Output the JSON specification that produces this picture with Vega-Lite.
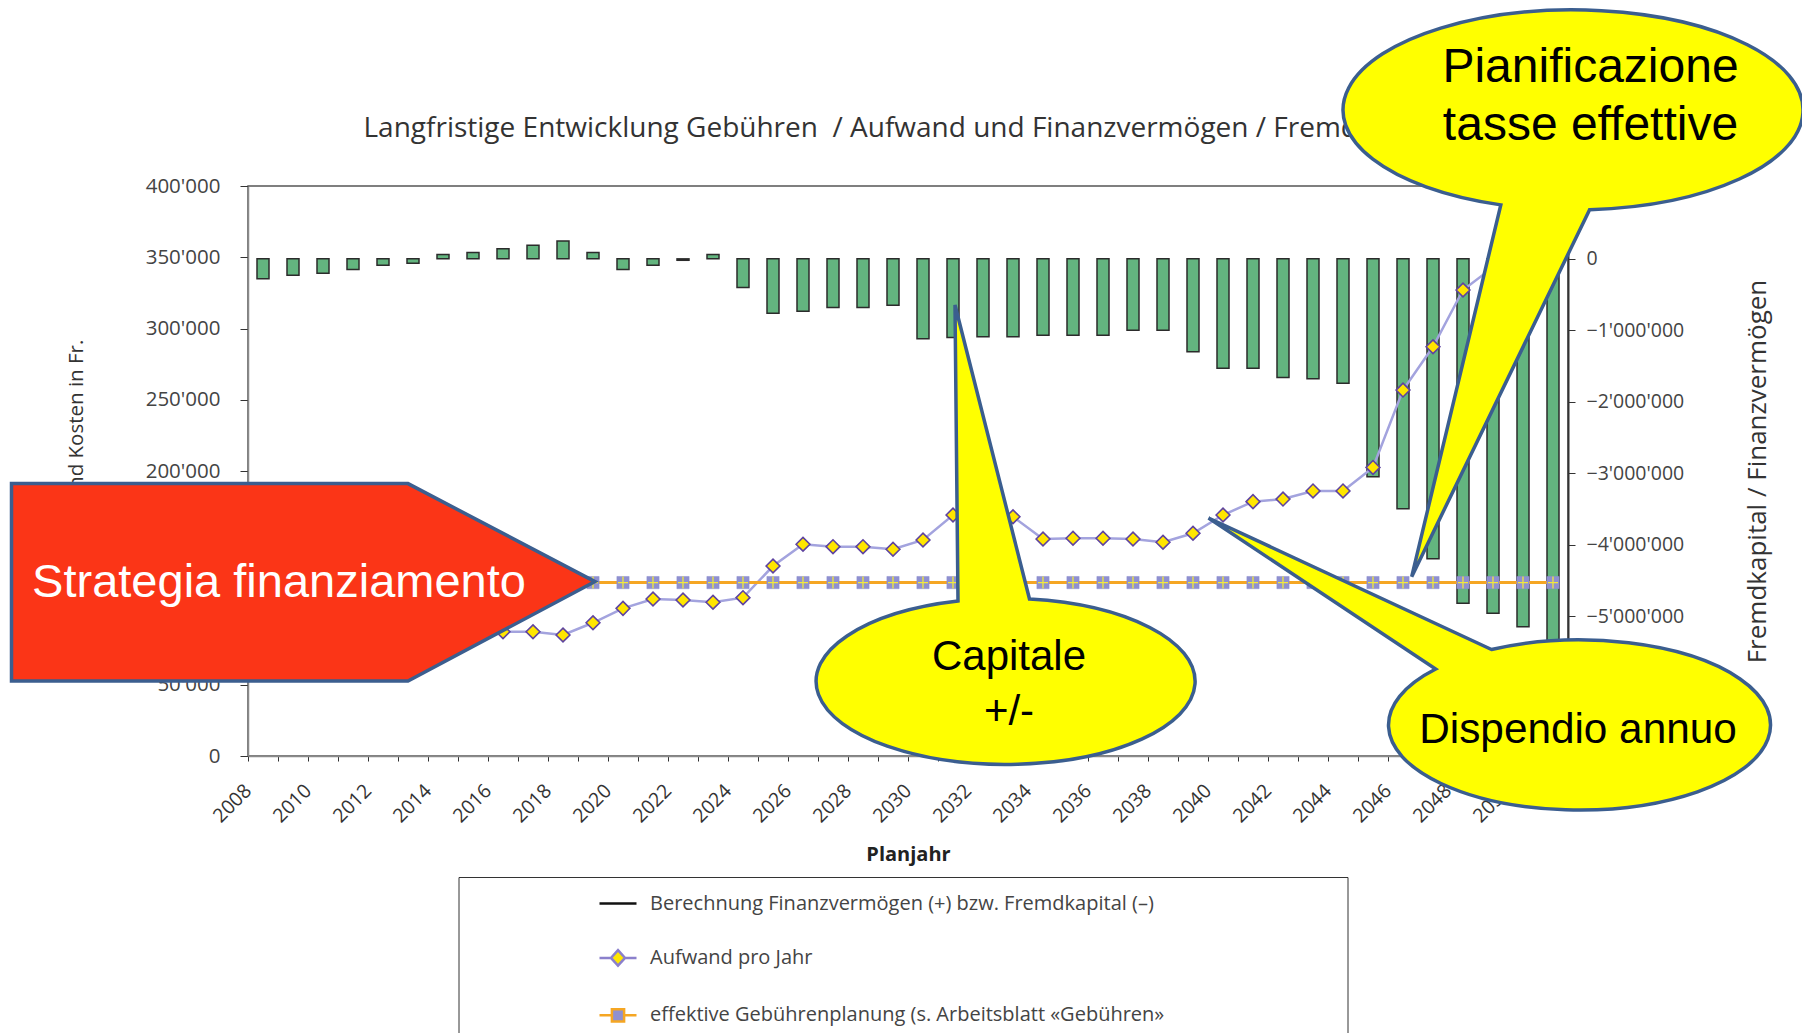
{
  "$schema": "https://vega.github.io/schema/vega-lite/v6.json",
  "width": 1320,
  "height": 570,
  "autosize": {"type": "none"},
  "padding": {"left": 248, "top": 186, "right": 234, "bottom": 277},
  "background": "white",
  "config": {
    "view": {"fill": "#E5E6E8", "stroke": "#555555", "strokeWidth": 1.5},
    "axis": {"grid": false, "labelFont": "Open Sans", "titleFont": "Open Sans", "labelColor": "#444444", "titleColor": "#333333", "tickColor": "#333333"}
  },
  "datasets": {
    "main": [
      {"year": 2008, "kapital": -280000, "aufwand": 92000, "gebuehr": 121700},
      {"year": 2009, "kapital": -230000, "aufwand": 95000, "gebuehr": 121700},
      {"year": 2010, "kapital": -200000, "aufwand": 93000, "gebuehr": 121700},
      {"year": 2011, "kapital": -150000, "aufwand": 96000, "gebuehr": 121700},
      {"year": 2012, "kapital": -90000, "aufwand": 94000, "gebuehr": 121700},
      {"year": 2013, "kapital": -60000, "aufwand": 91000, "gebuehr": 121700},
      {"year": 2014, "kapital": 60000, "aufwand": 89000, "gebuehr": 121700},
      {"year": 2015, "kapital": 90000, "aufwand": 88000, "gebuehr": 121700},
      {"year": 2016, "kapital": 140000, "aufwand": 87200, "gebuehr": 121700},
      {"year": 2017, "kapital": 190000, "aufwand": 87200, "gebuehr": 121700},
      {"year": 2018, "kapital": 250000, "aufwand": 84900, "gebuehr": 121700},
      {"year": 2019, "kapital": 90000, "aufwand": 93500, "gebuehr": 121700},
      {"year": 2020, "kapital": -150000, "aufwand": 103600, "gebuehr": 121700},
      {"year": 2021, "kapital": -90000, "aufwand": 110200, "gebuehr": 121700},
      {"year": 2022, "kapital": -20000, "aufwand": 109500, "gebuehr": 121700},
      {"year": 2023, "kapital": 60000, "aufwand": 107900, "gebuehr": 121700},
      {"year": 2024, "kapital": -400000, "aufwand": 111100, "gebuehr": 121700},
      {"year": 2025, "kapital": -760000, "aufwand": 133300, "gebuehr": 121700},
      {"year": 2026, "kapital": -735000, "aufwand": 148600, "gebuehr": 121700},
      {"year": 2027, "kapital": -680000, "aufwand": 146900, "gebuehr": 121700},
      {"year": 2028, "kapital": -680000, "aufwand": 146900, "gebuehr": 121700},
      {"year": 2029, "kapital": -650000, "aufwand": 145100, "gebuehr": 121700},
      {"year": 2030, "kapital": -1120000, "aufwand": 151600, "gebuehr": 121700},
      {"year": 2031, "kapital": -1100000, "aufwand": 169100, "gebuehr": 121700},
      {"year": 2032, "kapital": -1090000, "aufwand": 176000, "gebuehr": 121700},
      {"year": 2033, "kapital": -1090000, "aufwand": 167900, "gebuehr": 121700},
      {"year": 2034, "kapital": -1070000, "aufwand": 152300, "gebuehr": 121700},
      {"year": 2035, "kapital": -1070000, "aufwand": 152800, "gebuehr": 121700},
      {"year": 2036, "kapital": -1070000, "aufwand": 152800, "gebuehr": 121700},
      {"year": 2037, "kapital": -1000000, "aufwand": 152300, "gebuehr": 121700},
      {"year": 2038, "kapital": -1000000, "aufwand": 150000, "gebuehr": 121700},
      {"year": 2039, "kapital": -1300000, "aufwand": 156300, "gebuehr": 121700},
      {"year": 2040, "kapital": -1530000, "aufwand": 169100, "gebuehr": 121700},
      {"year": 2041, "kapital": -1530000, "aufwand": 178500, "gebuehr": 121700},
      {"year": 2042, "kapital": -1660000, "aufwand": 180300, "gebuehr": 121700},
      {"year": 2043, "kapital": -1680000, "aufwand": 186000, "gebuehr": 121700},
      {"year": 2044, "kapital": -1740000, "aufwand": 186000, "gebuehr": 121700},
      {"year": 2045, "kapital": -3050000, "aufwand": 202500, "gebuehr": 121700},
      {"year": 2046, "kapital": -3500000, "aufwand": 256800, "gebuehr": 121700},
      {"year": 2047, "kapital": -4200000, "aufwand": 287200, "gebuehr": 121700},
      {"year": 2048, "kapital": -4820000, "aufwand": 327000, "gebuehr": 121700},
      {"year": 2049, "kapital": -4960000, "aufwand": 343000, "gebuehr": 121700},
      {"year": 2050, "kapital": -5150000, "aufwand": 352000, "gebuehr": 121700},
      {"year": 2051, "kapital": -5450000, "aufwand": 358000, "gebuehr": 121700}
    ],
    "legendItems": [
      {"series": "Berechnung Finanzvermögen (+) bzw. Fremdkapital (–)"},
      {"series": "Aufwand pro Jahr"},
      {"series": "effektive Gebührenplanung (s. Arbeitsblatt «Gebühren»"}
    ]
  },
  "layer": [
    {
      "data": {"name": "main"},
      "mark": {"type": "bar", "width": {"band": 0.4}, "fill": "#63B57F", "stroke": "#2B2B2B", "strokeWidth": 1.5},
      "encoding": {
        "x": {
          "field": "year", "type": "ordinal", "title": "Planjahr",
          "scale": {"type": "band", "paddingInner": 0, "paddingOuter": 0},
          "axis": {
            "orient": "bottom", "bandPosition": 0, "labelAngle": -45, "labelAlign": "right", "labelBaseline": "top",
            "labelExpr": "datum.value % 2 === 0 ? datum.label : ''", "labelOverlap": false,
            "labelFontSize": 19.5, "labelColor": "#333333", "labelPadding": 20, "labelOffset": -21,
            "tickSize": 5, "domainColor": "#8A8A8A", "domainWidth": 1.5,
            "titleFontSize": 20, "titleFontWeight": "bold", "titleColor": "#222222", "titlePadding": 19
          }
        },
        "y": {
          "field": "kapital", "type": "quantitative", "title": "Fremdkapital / Finanzvermögen",
          "scale": {"domain": [-6960000, 1020000], "nice": false, "zero": false},
          "axis": {
            "orient": "right", "values": [0, -1000000, -2000000, -3000000, -4000000, -5000000, -6000000],
            "labelExpr": "replace(format(datum.value, ','), regexp(',', 'g'), \"'\")",
            "labelFontSize": 19.5, "labelPadding": 11, "tickSize": 7, "domainColor": "#333333", "domainWidth": 2,
            "titleAngle": 270, "titleFontSize": 26, "titleFontWeight": "normal", "titleColor": "#333333", "titlePadding": 87
          }
        }
      }
    },
    {
      "data": {"name": "main"},
      "layer": [
        {
          "mark": {"type": "line", "color": "#A3A3DE", "strokeWidth": 2.5},
          "encoding": {
            "x": {
              "field": "year", "type": "ordinal",
              "scale": {"type": "band", "paddingInner": 0, "paddingOuter": 0},
              "axis": {
                "orient": "top", "labels": false, "ticks": false, "domain": false, "grid": false,
                "title": "Langfristige Entwicklung Gebühren\u00a0 / Aufwand und Finanzvermögen / Fremdkapital",
                "titleFont": "Open Sans", "titleFontSize": 28, "titleFontWeight": "normal", "titleColor": "#333333",
                "titleAnchor": "start", "titleAlign": "left", "titleBaseline": "middle", "titleAngle": 0,
                "titleX": 115, "titleY": -58
              }
            },
            "y": {
              "field": "aufwand", "type": "quantitative", "title": "Gebühren und Kosten in Fr.",
              "scale": {"domain": [0, 400000], "nice": false},
              "axis": {
                "orient": "left", "values": [0, 50000, 100000, 150000, 200000, 250000, 300000, 350000, 400000],
                "labelExpr": "replace(format(datum.value, ','), regexp(',', 'g'), \"'\")",
                "labelFontSize": 20.5, "labelPadding": 20, "tickSize": 8, "domainColor": "#8A8A8A", "domainWidth": 1.5,
                "titleFontSize": 20.5, "titleFontWeight": "normal", "titleColor": "#333333", "titlePadding": 59
              }
            }
          }
        },
        {
          "mark": {"type": "point", "shape": "diamond", "size": 190, "filled": true, "fill": "#FFE600", "stroke": "#5E43A0", "strokeWidth": 1.6, "opacity": 1},
          "encoding": {
            "x": {"field": "year", "type": "ordinal", "scale": {"type": "band", "paddingInner": 0, "paddingOuter": 0}},
            "y": {"field": "aufwand", "type": "quantitative", "title": "Gebühren und Kosten in Fr.", "scale": {"domain": [0, 400000], "nice": false}}
          }
        },
        {
          "mark": {"type": "line", "color": "#F5A623", "strokeWidth": 3},
          "encoding": {
            "x": {"field": "year", "type": "ordinal", "scale": {"type": "band", "paddingInner": 0, "paddingOuter": 0}},
            "y": {"field": "gebuehr", "type": "quantitative", "title": "Gebühren und Kosten in Fr.", "scale": {"domain": [0, 400000], "nice": false}}
          }
        },
        {
          "mark": {"type": "point", "shape": "square", "size": 150, "filled": true, "fill": "#8F90D0", "stroke": "#8F90D0", "strokeWidth": 0.5, "opacity": 1},
          "encoding": {
            "x": {"field": "year", "type": "ordinal", "scale": {"type": "band", "paddingInner": 0, "paddingOuter": 0}},
            "y": {"field": "gebuehr", "type": "quantitative", "title": "Gebühren und Kosten in Fr.", "scale": {"domain": [0, 400000], "nice": false}}
          }
        },
        {
          "mark": {"type": "point", "shape": "M-5,0H5M0,-6V6", "size": 4, "filled": false, "color": "#F2E93C", "strokeWidth": 1.3, "opacity": 1},
          "encoding": {
            "x": {"field": "year", "type": "ordinal", "scale": {"type": "band", "paddingInner": 0, "paddingOuter": 0}},
            "y": {"field": "gebuehr", "type": "quantitative", "title": "Gebühren und Kosten in Fr.", "scale": {"domain": [0, 400000], "nice": false}}
          }
        },
        {
          "data": {"name": "legendItems"},
          "mark": {"type": "point", "filled": true, "opacity": 0},
          "encoding": {
            "shape": {
              "field": "series", "type": "nominal",
              "scale": {
                "domain": ["Berechnung Finanzvermögen (+) bzw. Fremdkapital (–)", "Aufwand pro Jahr", "effektive Gebührenplanung (s. Arbeitsblatt «Gebühren»"],
                "range": ["M-1,0H1", "M-1,0H-0.38M0.38,0H1M0,-0.42L0.38,0L0,0.42L-0.38,0Z", "M-1,0H-0.33M0.33,0H1M-0.33,-0.33H0.33V0.33H-0.33Z"]
              },
              "legend": {
                "orient": "none", "legendX": 210.5, "legendY": 691, "title": null, "direction": "vertical",
                "padding": 6.5, "symbolOffset": 133, "symbolSize": 1369, "symbolStrokeWidth": 2.5,
                "labelFont": "Open Sans", "labelFontSize": 20, "labelColor": "#444444", "labelOffset": 12, "labelLimit": 2000,
                "labelExpr": "length(datum.label) > 52 ? datum.label + '\u00a0\u00a0\u00a0\u00a0\u00a0\u00a0\u00a0\u00a0\u00a0\u00a0\u00a0\u00a0\u00a0\u00a0\u00a0\u00a0\u00a0\u00a0\u00a0\u00a0\u00a0\u00a0\u00a0\u00a0\u00a0\u00a0\u00a0\u00a0\u00a0\u00a0\u00a0\u00a0\u00a0\u00a0\u200b' : datum.label",
                "rowPadding": 24.4, "strokeColor": "#333333", "fillColor": "white",
                "encode": {"symbols": {"update": {"opacity": {"value": 1}}}}
              }
            },
            "fill": {
              "field": "series", "type": "nominal",
              "scale": {
                "domain": ["Berechnung Finanzvermögen (+) bzw. Fremdkapital (–)", "Aufwand pro Jahr", "effektive Gebührenplanung (s. Arbeitsblatt «Gebühren»"],
                "range": ["transparent", "#FFE600", "#8F90D0"]
              },
              "legend": {
                "orient": "none", "legendX": 210.5, "legendY": 691, "title": null, "direction": "vertical",
                "padding": 6.5, "symbolOffset": 133, "symbolSize": 1369, "symbolStrokeWidth": 2.5,
                "labelFont": "Open Sans", "labelFontSize": 20, "labelColor": "#444444", "labelOffset": 12, "labelLimit": 2000,
                "labelExpr": "length(datum.label) > 52 ? datum.label + '\u00a0\u00a0\u00a0\u00a0\u00a0\u00a0\u00a0\u00a0\u00a0\u00a0\u00a0\u00a0\u00a0\u00a0\u00a0\u00a0\u00a0\u00a0\u00a0\u00a0\u00a0\u00a0\u00a0\u00a0\u00a0\u00a0\u00a0\u00a0\u00a0\u00a0\u00a0\u00a0\u00a0\u00a0\u200b' : datum.label",
                "rowPadding": 24.4, "strokeColor": "#333333", "fillColor": "white",
                "encode": {"symbols": {"update": {"opacity": {"value": 1}}}}
              }
            },
            "stroke": {
              "field": "series", "type": "nominal",
              "scale": {
                "domain": ["Berechnung Finanzvermögen (+) bzw. Fremdkapital (–)", "Aufwand pro Jahr", "effektive Gebührenplanung (s. Arbeitsblatt «Gebühren»"],
                "range": ["#111111", "#8B80CC", "#F5A623"]
              },
              "legend": {
                "orient": "none", "legendX": 210.5, "legendY": 691, "title": null, "direction": "vertical",
                "padding": 6.5, "symbolOffset": 133, "symbolSize": 1369, "symbolStrokeWidth": 2.5,
                "labelFont": "Open Sans", "labelFontSize": 20, "labelColor": "#444444", "labelOffset": 12, "labelLimit": 2000,
                "labelExpr": "length(datum.label) > 52 ? datum.label + '\u00a0\u00a0\u00a0\u00a0\u00a0\u00a0\u00a0\u00a0\u00a0\u00a0\u00a0\u00a0\u00a0\u00a0\u00a0\u00a0\u00a0\u00a0\u00a0\u00a0\u00a0\u00a0\u00a0\u00a0\u00a0\u00a0\u00a0\u00a0\u00a0\u00a0\u00a0\u00a0\u00a0\u00a0\u200b' : datum.label",
                "rowPadding": 24.4, "strokeColor": "#333333", "fillColor": "white",
                "encode": {"symbols": {"update": {"opacity": {"value": 1}}}}
              }
            }
          }
        },
        {
          "transform": [{"filter": "datum.year === 2019"}],
          "layer": [
            {
              "mark": {"type": "point", "shape": "M2,-1L-185,-99L-581.5,-99L-581.5,98.5L-185,98.5Z", "size": 4, "filled": true, "fill": "#FB3517", "stroke": "#3B5E8F", "strokeWidth": 3.5, "opacity": 1},
              "encoding": {
                "x": {"field": "year", "type": "ordinal", "scale": {"type": "band", "paddingInner": 0, "paddingOuter": 0}},
                "y": {"field": "gebuehr", "type": "quantitative", "title": "Gebühren und Kosten in Fr.", "scale": {"domain": [0, 400000], "nice": false}}
              }
            },
            {
              "mark": {"type": "text", "text": "Strategia finanziamento", "font": "Liberation Sans", "fontSize": 47, "color": "white", "dx": -314, "dy": 0, "align": "center", "baseline": "middle"},
              "encoding": {
                "x": {"field": "year", "type": "ordinal", "scale": {"type": "band", "paddingInner": 0, "paddingOuter": 0}},
                "y": {"field": "gebuehr", "type": "quantitative", "title": "Gebühren und Kosten in Fr.", "scale": {"domain": [0, 400000], "nice": false}}
              }
            }
          ]
        },
        {
          "transform": [{"filter": "datum.year === 2031"}],
          "layer": [
            {
              "mark": {"type": "point", "shape": "M5,86L2,-210L76.5,84A189.5,83 0 1 1 5,86Z", "size": 4, "filled": true, "fill": "#FFFF00", "stroke": "#3B5E8F", "strokeWidth": 3.5, "opacity": 1},
              "encoding": {
                "x": {"field": "year", "type": "ordinal", "scale": {"type": "band", "paddingInner": 0, "paddingOuter": 0}},
                "y": {"field": "aufwand", "type": "quantitative", "title": "Gebühren und Kosten in Fr.", "scale": {"domain": [0, 400000], "nice": false}}
              }
            },
            {
              "mark": {"type": "text", "text": ["Capitale", "+/-"], "lineHeight": 55, "font": "Liberation Sans", "fontSize": 42, "color": "black", "dx": 56, "dy": 142, "align": "center", "baseline": "middle"},
              "encoding": {
                "x": {"field": "year", "type": "ordinal", "scale": {"type": "band", "paddingInner": 0, "paddingOuter": 0}},
                "y": {"field": "aufwand", "type": "quantitative", "title": "Gebühren und Kosten in Fr.", "scale": {"domain": [0, 400000], "nice": false}}
              }
            }
          ]
        },
        {
          "transform": [{"filter": "datum.year === 2046"}],
          "layer": [
            {
              "mark": {"type": "point", "shape": "M8.7,-5.9L186.6,-372.9A230,100 0 1 0 97.8,-377.7Z", "size": 4, "filled": true, "fill": "#FFFF00", "stroke": "#3B5E8F", "strokeWidth": 3.5, "opacity": 1},
              "encoding": {
                "x": {"field": "year", "type": "ordinal", "scale": {"type": "band", "paddingInner": 0, "paddingOuter": 0}},
                "y": {"field": "gebuehr", "type": "quantitative", "title": "Gebühren und Kosten in Fr.", "scale": {"domain": [0, 400000], "nice": false}}
              }
            },
            {
              "mark": {"type": "text", "text": ["Pianificazione", "tasse effettive"], "lineHeight": 58.6, "font": "Liberation Sans", "fontSize": 48, "color": "black", "dx": 187.5, "dy": -514.7, "align": "center", "baseline": "middle"},
              "encoding": {
                "x": {"field": "year", "type": "ordinal", "scale": {"type": "band", "paddingInner": 0, "paddingOuter": 0}},
                "y": {"field": "gebuehr", "type": "quantitative", "title": "Gebühren und Kosten in Fr.", "scale": {"domain": [0, 400000], "nice": false}}
              }
            }
          ]
        },
        {
          "transform": [{"filter": "datum.year === 2040"}],
          "layer": [
            {
              "mark": {"type": "point", "shape": "M-14.5,3L268.5,134.5A191,85 0 1 1 212.7,154Z", "size": 4, "filled": true, "fill": "#FFFF00", "stroke": "#3B5E8F", "strokeWidth": 3.5, "opacity": 1},
              "encoding": {
                "x": {"field": "year", "type": "ordinal", "scale": {"type": "band", "paddingInner": 0, "paddingOuter": 0}},
                "y": {"field": "aufwand", "type": "quantitative", "title": "Gebühren und Kosten in Fr.", "scale": {"domain": [0, 400000], "nice": false}}
              }
            },
            {
              "mark": {"type": "text", "text": "Dispendio annuo", "font": "Liberation Sans", "fontSize": 42.3, "color": "black", "dx": 355, "dy": 214.8, "align": "center", "baseline": "middle"},
              "encoding": {
                "x": {"field": "year", "type": "ordinal", "scale": {"type": "band", "paddingInner": 0, "paddingOuter": 0}},
                "y": {"field": "aufwand", "type": "quantitative", "title": "Gebühren und Kosten in Fr.", "scale": {"domain": [0, 400000], "nice": false}}
              }
            }
          ]
        }
      ]
    }
  ],
  "resolve": {"scale": {"y": "independent"}, "axis": {"y": "independent", "x": "independent"}}
}
